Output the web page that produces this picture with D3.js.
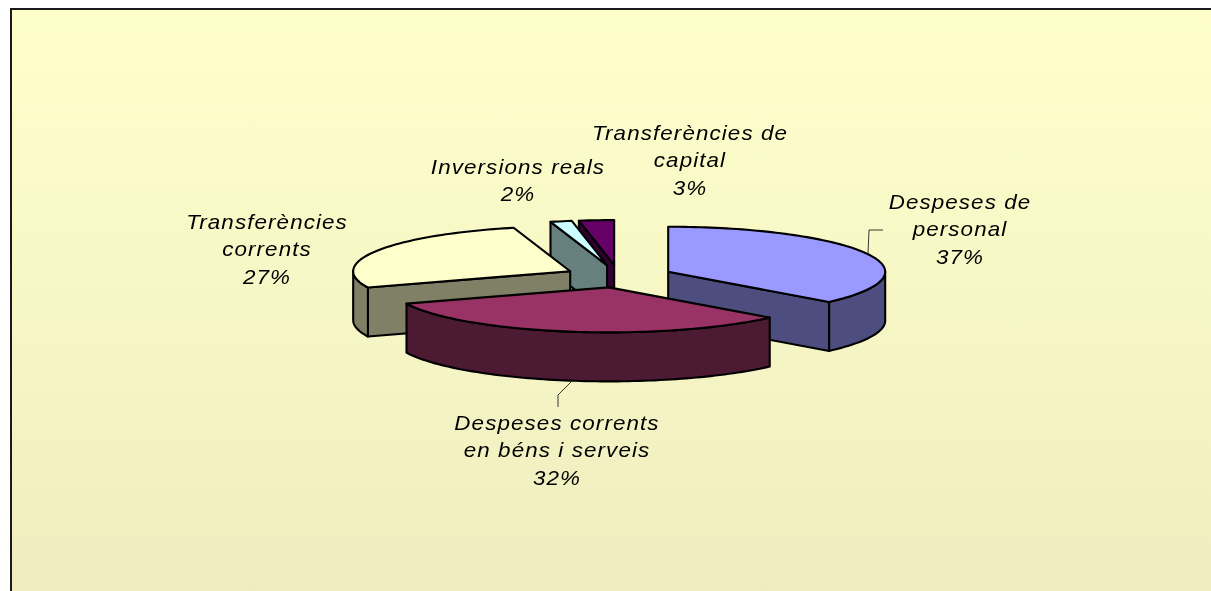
<!DOCTYPE html>
<html><head><meta charset="utf-8">
<script src="https://cdnjs.cloudflare.com/ajax/libs/d3/7.8.5/d3.min.js"></script>
<style>html,body{margin:0;padding:0;background:#fff;overflow:hidden}svg{display:block;filter:blur(0.35px)}</style>
</head><body><svg id="c" width="1211" height="591"></svg>
<script>
const categories = ["Despeses de personal","Despeses corrents en béns i serveis","Transferències corrents","Inversions reals","Transferències de capital"];
const values = [36.7,32.4,26.7,1.6,2.6];
const percentLabels = ["37%","32%","27%","2%","3%"];
const labelLines = [["Despeses de","personal"],["Despeses corrents","en béns i serveis"],["Transferències","corrents"],["Inversions reals"],["Transferències de","capital"]];
const topColors = ["#9999FF","#993366","#FFFFCC","#CCFFFF","#660066"];
const sideColors = ["#4D4D80","#4D1A33","#808066","#668080","#330033"];

const W=1211,H=591, depth=49, explode=0.25;
const sx=d3.scaleLinear().domain([-1,1]).range([618.6-217,618.6+217]);
const sy=d3.scaleLinear().domain([-1,1]).range([276.3-45,276.3+45]);
const svg=d3.select("#c");
const defs=svg.append("defs");
const g=defs.append("linearGradient").attr("id","bg").attr("x1",0).attr("y1",0).attr("x2",0).attr("y2",1);
g.append("stop").attr("offset","0").attr("stop-color","#FFFFCC");
g.append("stop").attr("offset","1").attr("stop-color","#EFEDBF");
svg.append("rect").attr("x",11).attr("y",9).attr("width",W).attr("height",H).attr("fill","url(#bg)").attr("stroke","#1a1a1a").attr("stroke-width",2);

const pie=d3.pie().value(d=>d).sort(null);
const arcs=pie(values);
const line=d3.line();
const order=[4,3,2,0,1];
const pt=(a,r,o)=>[sx(o[0]+r*Math.sin(a)),sy(o[1]-r*Math.cos(a))];
const sample=(a0,a1)=>d3.range(0,1.0001,1/Math.max(2,Math.ceil((a1-a0)*40))).map(t=>a0+(a1-a0)*t);
const drop=p=>[p[0],p[1]+depth];
function face(pts,fill){
  svg.append("path").attr("d",line(pts)+"Z").attr("fill",fill).attr("stroke","#000").attr("stroke-width",2.1).attr("stroke-linejoin","round");
}
order.forEach(i=>{
  const d=arcs[i], mid=(d.startAngle+d.endAngle)/2;
  const o=[explode*Math.sin(mid),-explode*Math.cos(mid)];
  const apex=[sx(o[0]),sy(o[1])];
  const s=pt(d.startAngle,1,o), e=pt(d.endAngle,1,o);
  if(Math.sin(d.startAngle)<-1e-6) face([s,apex,drop(apex),drop(s)],sideColors[i]);
  if(Math.sin(d.endAngle)>1e-6) face([e,apex,drop(apex),drop(e)],sideColors[i]);
  const a0=Math.max(d.startAngle,Math.PI/2), a1=Math.min(d.endAngle,3*Math.PI/2);
  if(a1>a0){
    const rim=sample(a0,a1).map(a=>pt(a,1,o));
    face(rim.concat(rim.slice().reverse().map(drop)),sideColors[i]);
  }
  const rim=sample(d.startAngle,d.endAngle).map(a=>pt(a,1,o));
  face([apex].concat(rim),topColors[i]);
});

// leader lines
const leaders=[[[868,253],[869,230],[883,230]],[[571,382],[558,395],[558,407]]];
leaders.forEach(l=>svg.append("path").attr("d",line(l)).attr("fill","none").attr("stroke","#222").attr("stroke-width",0.9));

const labelPos=[[960,209],[557,430],[267,229],[518,174],[690,140]];
categories.forEach((c,i)=>{
  const lines=labelLines[i].concat(percentLabels[i]);
  const t=svg.append("text").attr("font-family","'Liberation Sans',Arial,sans-serif").attr("font-style","italic").attr("font-size",20).attr("letter-spacing",0.98).attr("fill","#000").attr("text-anchor","middle")
    .attr("transform",`translate(${labelPos[i][0]},${labelPos[i][1]}) scale(1.12,1)`);
  lines.forEach((s,j)=>t.append("tspan").attr("x",0).attr("y",j*27.5).text(s));
});
</script></body></html>
